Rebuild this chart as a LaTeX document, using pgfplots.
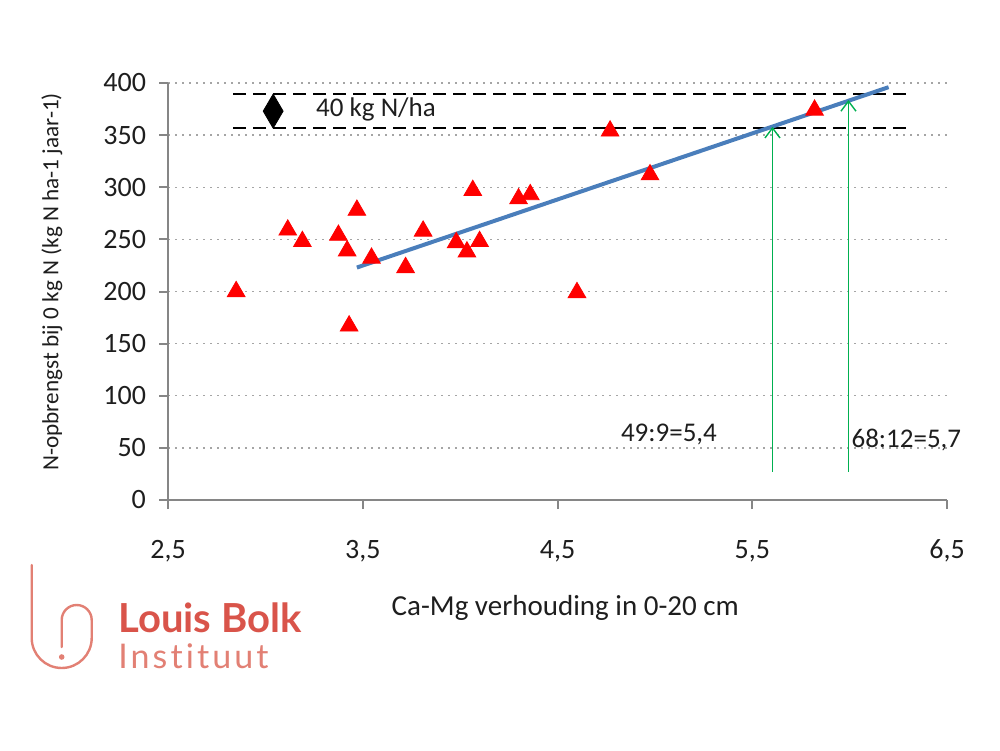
\documentclass[border=0pt]{standalone}
\usepackage{pgfplots}
\pgfplotsset{compat=1.18}
\usepackage{fontspec}
\setmainfont{Carlito}
\newfontfamily\logofont{Lato}
\newfontfamily\logofontwide{Lato}[LetterSpace=9, RawFeature={-liga;-dlig;-clig;-calt}]
\usetikzlibrary{arrows.meta}
\definecolor{ptred}{RGB}{255,0,0}
\definecolor{fitblue}{RGB}{74,126,187}
\definecolor{arrgreen}{RGB}{0,176,80}
\definecolor{gridgray}{RGB}{165,165,165}
\definecolor{axgray}{RGB}{134,134,134}
\definecolor{logored}{RGB}{217,84,74}
\definecolor{logolight}{RGB}{226,128,116}
\definecolor{txt}{RGB}{30,30,30}
\begin{document}
\begin{tikzpicture}
\useasboundingbox (0,0) rectangle (500pt,375pt);
\begin{axis}[
  at={(84pt,125pt)}, anchor=south west,
  width=389.5pt, height=208.5pt, scale only axis,
  xmin=2.5, xmax=6.5, ymin=0, ymax=400,
  xtick={2.5,3.5,4.5,5.5,6.5}, ytick={0,50,...,400},
  axis x line*=bottom, axis y line*=left,
  axis line style={axgray, line width=1pt},
  tick align=outside, major tick length=4.5pt,
  tick style={axgray, line width=1pt},
  ymajorgrids,
  major grid style={gridgray, line width=0.7pt, dash pattern=on 1pt off 2.5pt},
  clip=false,
  /pgf/number format/assume math mode=true,
  tick label style={font=\fontsize{14}{16}\selectfont, text=txt},
  xticklabel style={/pgf/number format/.cd, fixed, fixed zerofill, precision=1, use comma, /tikz/.cd, yshift=-12pt},
  yticklabel style={xshift=-3pt},
  xlabel={Ca-Mg verhouding in 0-20 cm},
  ylabel={N-opbrengst bij 0 kg N (kg N ha-1 jaar-1)},
  every axis x label/.style={at={(axis description cs:0.51,-0.259)}, anchor=center, font=\fontsize{14.5}{16}\selectfont, text=txt},
  every axis y label/.style={at={(axis description cs:-0.149,0.523)}, anchor=center, rotate=90, font=\fontsize{11.6}{13}\selectfont, text=txt},
]
\addplot[black, line width=1.3pt, dash pattern=on 6.5pt off 3.5pt] coordinates {(2.834,357) (6.306,357)};
\addplot[black, line width=1.3pt, dash pattern=on 6.5pt off 3.5pt] coordinates {(2.834,389.5) (6.306,389.5)};
\addplot[only marks, mark=triangle*, mark size=5.1pt, color=ptred] coordinates {
(2.85,200) (3.115,259) (3.19,248) (3.375,254) (3.42,239) (3.47,278) (3.43,167)
(3.545,232) (3.72,223) (3.81,258) (3.98,247) (4.035,238) (4.10,248) (4.065,297)
(4.30,289) (4.36,293) (4.60,199) (4.77,354) (4.975,312) (5.82,374)};
\addplot[fitblue, line width=2pt] coordinates {(3.47,223) (6.2,396)};
\addplot[arrgreen, line width=0.7pt, -{Straight Barb[length=5pt,width=7.5pt]}] coordinates {(5.604,27) (5.604,358)};
\addplot[arrgreen, line width=0.7pt, -{Straight Barb[length=5pt,width=7.5pt]}] coordinates {(5.994,27) (5.994,383.7)};
\addplot[only marks, mark=diamond*, mark size=8.5pt, mark options={xscale=0.78, fill=black, draw=black}] coordinates {(3.04,373)};
\node[anchor=west, inner sep=0, font=\fontsize{13.5}{15}\selectfont, text=txt] at (axis cs:3.259,375) {40 kg N/ha};
\node[anchor=west, inner sep=0, font=\fontsize{13.5}{15}\selectfont, text=txt] at (axis cs:4.824,62.4) {49:9=5,4};
\node[anchor=west, inner sep=0, font=\fontsize{13.5}{15}\selectfont, text=txt] at (axis cs:6.008,57.6) {68:12=5,7};
\end{axis}
\draw[logolight, line width=1.2pt, line cap=round] (15.85pt,92.5pt) -- (15.85pt,56pt) arc[start angle=180, end angle=360, radius=15pt] -- (45.85pt,65pt) arc[start angle=0, end angle=180, radius=7.5pt] -- (30.85pt,51.5pt);
\fill[logolight] (30.85pt,46.5pt) circle (1.4pt);
\node[anchor=base west, inner sep=0, font=\logofont\bfseries\fontsize{20}{22}\selectfont, text=logored] at (59pt,59pt) {Louis Bolk};
\node[anchor=base west, inner sep=0, font=\logofontwide\fontsize{17}{19}\selectfont, text=logolight] at (59pt,41pt) {Instituut};
\end{tikzpicture}
\end{document}
